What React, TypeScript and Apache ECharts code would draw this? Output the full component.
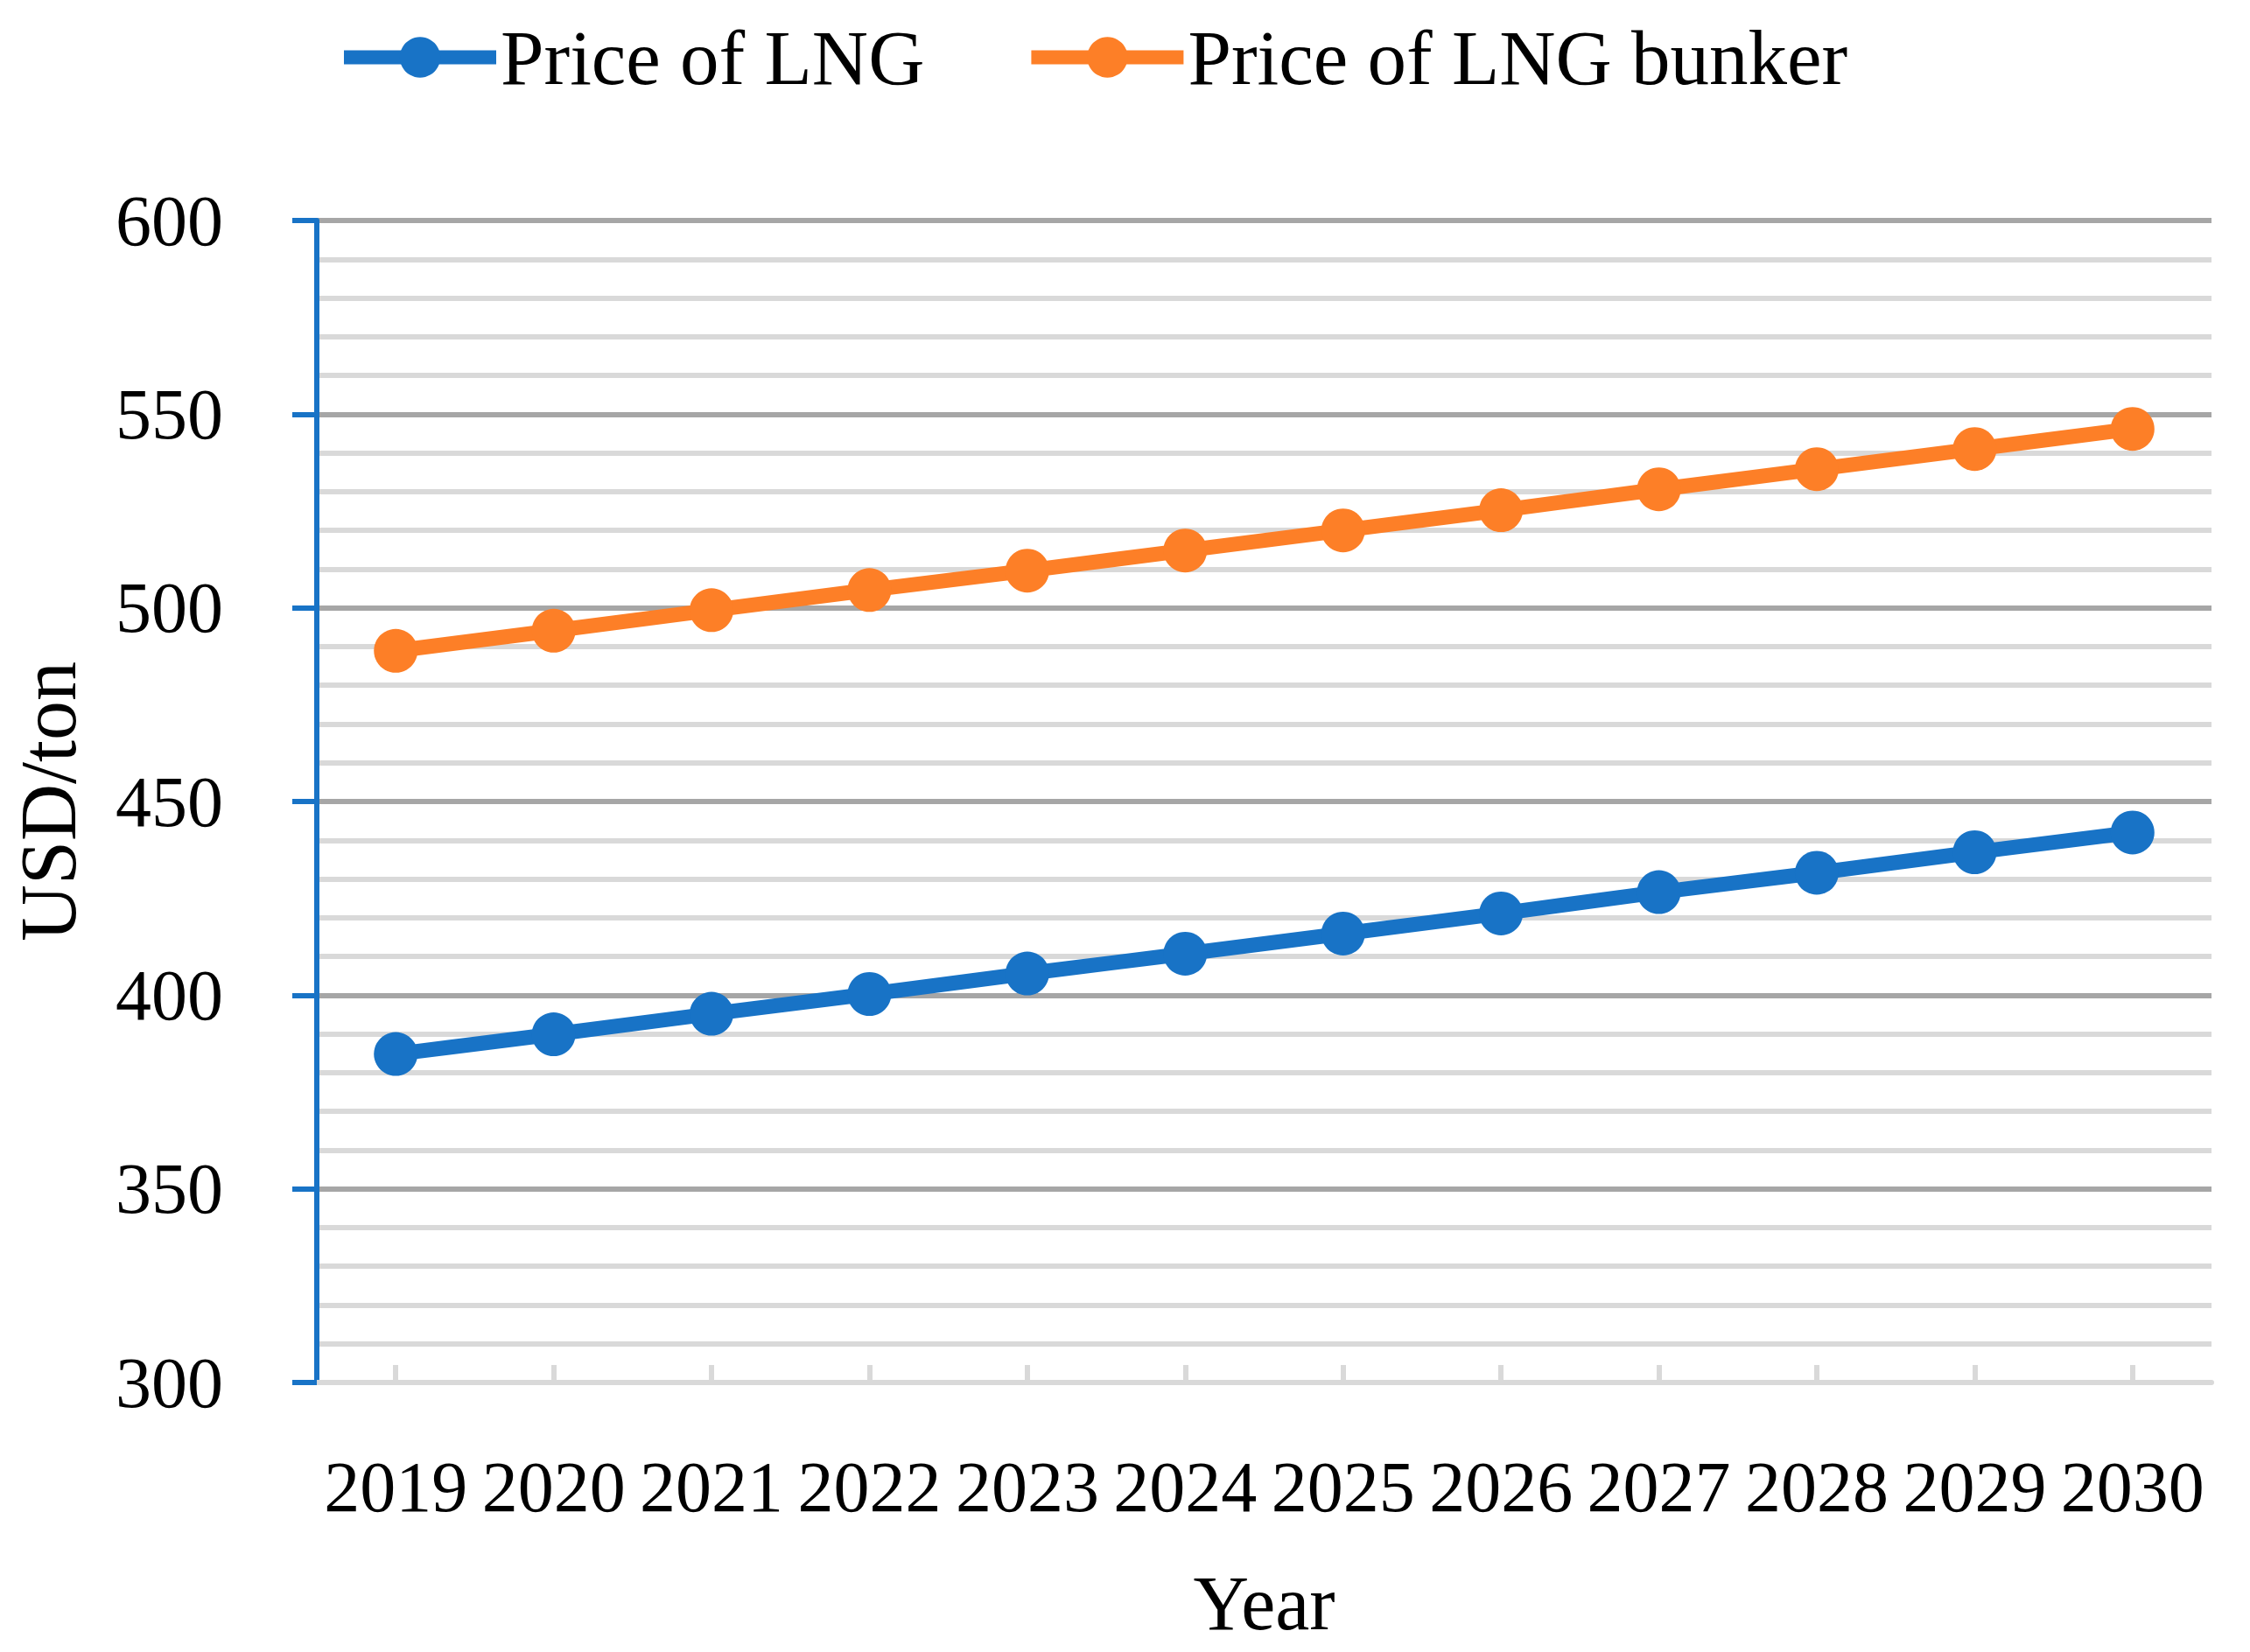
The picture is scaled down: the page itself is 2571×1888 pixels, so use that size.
import React, { useEffect, useRef } from "react";
import * as echarts from "echarts";

const years = ["2019", "2020", "2021", "2022", "2023", "2024", "2025", "2026", "2027", "2028", "2029", "2030"];
const priceLNG = [384.8, 389.9, 395.2, 400.3, 405.6, 410.7, 415.9, 421.1, 426.6, 431.6, 436.9, 442.0];
const priceBunker = [488.9, 494.1, 499.4, 504.6, 509.6, 514.8, 520.0, 525.2, 530.6, 535.8, 541.0, 546.2];
const seriesNames = ["Price of LNG", "Price of LNG bunker"];
const yAxisTitle = "USD/ton";
const xAxisTitle = "Year";

const FONT = "'Liberation Serif', 'DejaVu Serif', serif";
const BLUE = "#1873C6";
const ORANGE = "#FD7F27";

export default function App() {
  const ref = useRef<HTMLDivElement>(null);
  useEffect(() => {
    document.body.style.margin = "0";
    const chart = echarts.init(ref.current!, null, { renderer: "svg" });
    chart.setOption({
      animation: false,
      backgroundColor: "#ffffff",
      textStyle: { fontFamily: FONT, color: "#000" },
      legend: {
        data: seriesNames,
        left: 380,
        top: 16,
        itemWidth: 174,
        itemHeight: 58,
        itemGap: 114,
        lineStyle: { width: 16 },
        textStyle: { fontFamily: FONT, fontSize: 89, color: "#000" },
      },
      grid: { left: 362, right: 44, top: 252, bottom: 308, containLabel: false },
      xAxis: {
        type: "category",
        data: years,
        boundaryGap: true,
        name: xAxisTitle,
        nameLocation: "middle",
        nameGap: 208,
        nameTextStyle: { fontFamily: FONT, fontSize: 88, color: "#000" },
        axisLine: { show: true, lineStyle: { color: "#D9D9D9", width: 6 } },
        axisTick: { show: true, inside: true, alignWithLabel: true, length: 20, lineStyle: { color: "#D9D9D9", width: 6 } },
        axisLabel: { fontFamily: FONT, fontSize: 82, color: "#000", margin: 78, interval: 0 },
        splitLine: { show: false },
      },
      yAxis: {
        type: "value",
        min: 300,
        max: 600,
        interval: 50,
        name: yAxisTitle,
        nameLocation: "middle",
        nameGap: 262,
        nameRotate: 90,
        nameTextStyle: { fontFamily: FONT, fontSize: 90, color: "#000" },
        axisLine: { show: true, lineStyle: { color: BLUE, width: 6 } },
        axisTick: { show: true, inside: false, length: 28, lineStyle: { color: BLUE, width: 6 } },
        axisLabel: { fontFamily: FONT, fontSize: 82, color: "#000", margin: 107 },
        splitLine: { show: true, lineStyle: { color: "#A6A6A6", width: 6 } },
        minorTick: { show: false, splitNumber: 5 },
        minorSplitLine: { show: true, lineStyle: { color: "#D9D9D9", width: 6 } },
      },
      series: [
        {
          name: seriesNames[0],
          type: "line",
          data: priceLNG,
          symbol: "circle",
          symbolSize: 50,
          lineStyle: { color: BLUE, width: 17 },
          itemStyle: { color: BLUE },
          z: 3,
        },
        {
          name: seriesNames[1],
          type: "line",
          data: priceBunker,
          symbol: "circle",
          symbolSize: 50,
          lineStyle: { color: ORANGE, width: 17 },
          itemStyle: { color: ORANGE },
          z: 3,
        },
      ],
    });
    return () => chart.dispose();
  }, []);
  return <div ref={ref} style={{ width: 2571, height: 1888 }} />;
}
